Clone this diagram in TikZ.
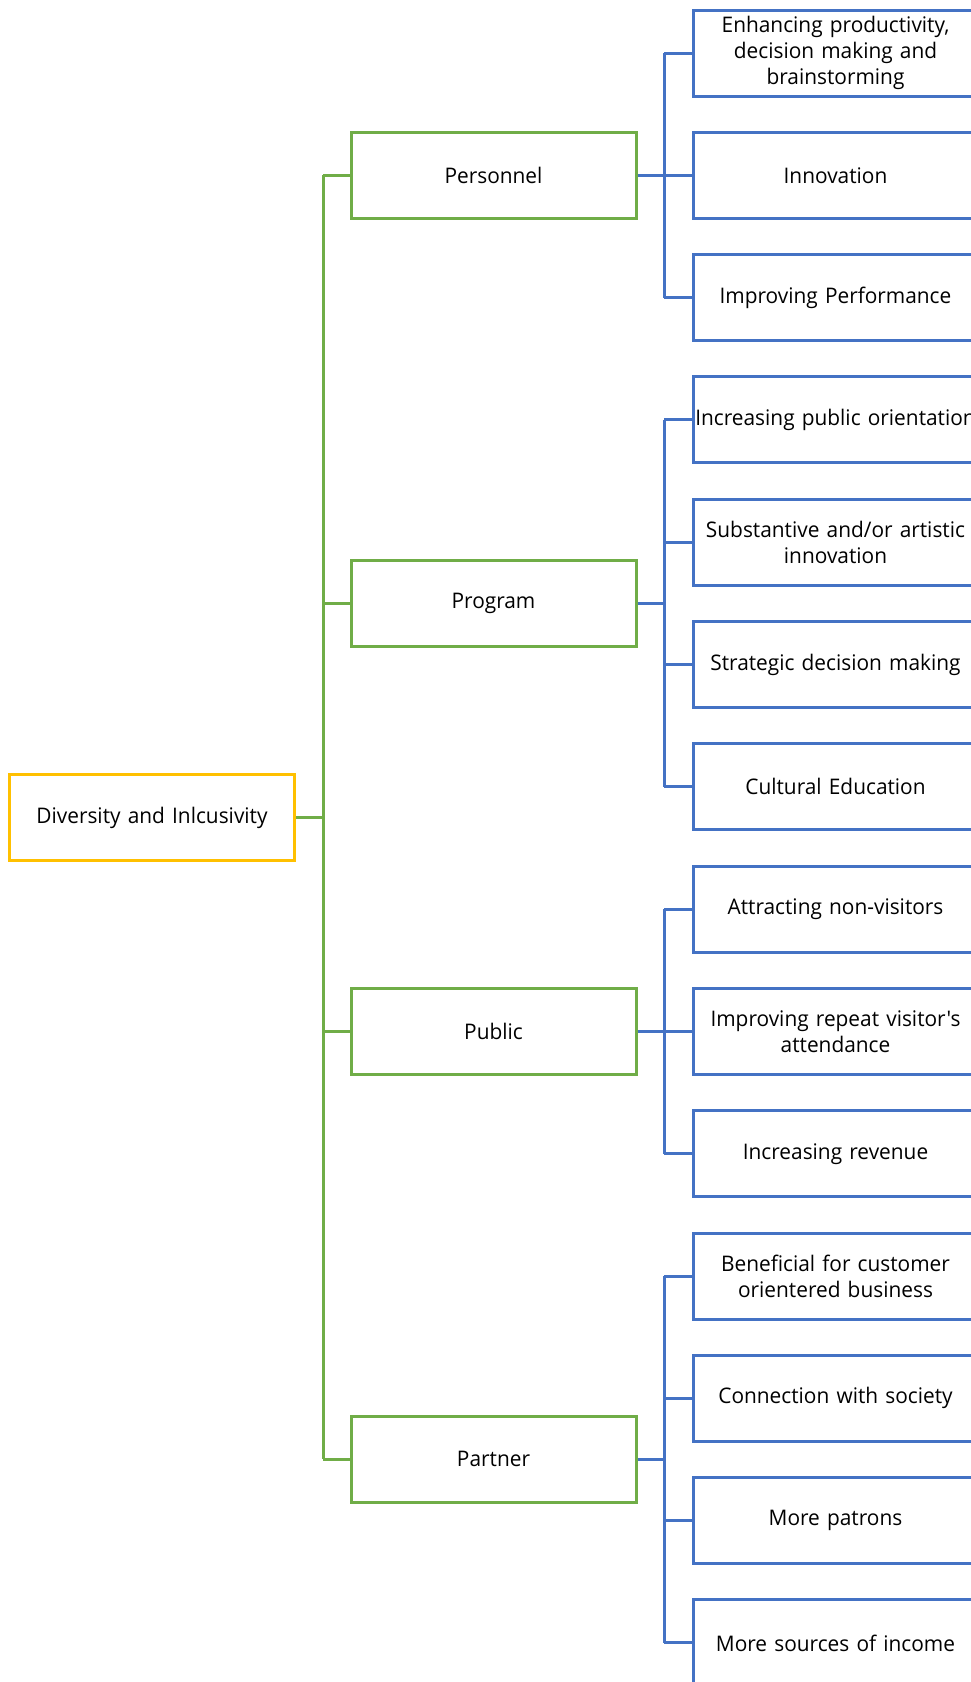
\documentclass[tikz,border=0pt]{standalone}
\usepackage{fontspec}
\newfontfamily\uifont{Open Sans}[FakeStretch=0.97]
\definecolor{ogreen}{HTML}{70AD47}
\definecolor{oblue}{HTML}{4472C4}
\definecolor{ogold}{HTML}{FFC000}
\begin{document}
\begin{tikzpicture}[x=1pt,y=-1pt,
  basebox/.style={draw, line width=3pt, fill=white, minimum width=285pt, minimum height=86pt,
    text width=281pt, inner sep=2pt, align=center, font=\uifont\fontsize{21.5}{26}\selectfont, text=black},
  rootbox/.style={basebox, draw=ogold},
  midbox/.style={basebox, draw=ogreen},
  leafbox/.style={basebox, draw=oblue},
  gline/.style={draw=ogreen, line width=3pt},
  bline/.style={draw=oblue, line width=3pt}]
\useasboundingbox (0,0) rectangle (971,1682);
\clip (0,0) rectangle (971,1682);
\fill[white] (0,0) rectangle (971,1682);

\node[rootbox] (root) at (152,817.5) {Diversity and Inlcusivity};
\node[midbox] (p1) at (493.5,175) {Personnel};
\node[midbox] (p2) at (493.5,603) {Program};
\node[midbox] (p3) at (493.5,1031) {Public};
\node[midbox] (p4) at (493.5,1459) {Partner};

\node[leafbox] (c0) at (835.5,53) {Enhancing productivity,\\decision making and\\brainstorming};
\node[leafbox] (c1) at (835.5,175.3) {Innovation};
\node[leafbox] (c2) at (835.5,297.6) {Improving Performance};
\node[leafbox] (c3) at (835.5,419.9) {Increasing public orientation};
\node[leafbox] (c4) at (835.5,542.2) {Substantive and/or artistic\\innovation};
\node[leafbox] (c5) at (835.5,664.5) {Strategic decision making};
\node[leafbox] (c6) at (835.5,786.8) {Cultural Education};
\node[leafbox] (c7) at (835.5,909.1) {Attracting non-visitors};
\node[leafbox] (c8) at (835.5,1031.4) {Improving repeat visitor's\\attendance};
\node[leafbox] (c9) at (835.5,1153.7) {Increasing revenue};
\node[leafbox] (c10) at (835.5,1276) {Beneficial for customer\\orientered business};
\node[leafbox] (c11) at (835.5,1398.3) {Connection with society};
\node[leafbox] (c12) at (835.5,1520.6) {More patrons};
\node[leafbox] (c13) at (835.5,1642.9) {More sources of income};

% green connectors
\coordinate (gx) at (323,0);
\draw[gline] (root.east) -- (root.east -| gx);
\draw[gline] (p1.west -| gx) -- (p4.west -| gx);
\foreach \p in {p1,p2,p3,p4}{
  \draw[gline] (\p.west -| gx) -- (\p.west);
}

% blue connectors
\coordinate (bx) at (664,0);
\draw[bline] (p1.east) -- (p1.east -| bx);
\draw[bline] (c0.west -| bx) -- (c2.west -| bx);
\foreach \c in {c0,c1,c2}{ \draw[bline] (\c.west -| bx) -- (\c.west); }

\draw[bline] (p2.east) -- (p2.east -| bx);
\draw[bline] (c3.west -| bx) -- (c6.west -| bx);
\foreach \c in {c3,c4,c5,c6}{ \draw[bline] (\c.west -| bx) -- (\c.west); }

\draw[bline] (p3.east) -- (p3.east -| bx);
\draw[bline] (c7.west -| bx) -- (c9.west -| bx);
\foreach \c in {c7,c8,c9}{ \draw[bline] (\c.west -| bx) -- (\c.west); }

\draw[bline] (p4.east) -- (p4.east -| bx);
\draw[bline] (c10.west -| bx) -- (c13.west -| bx);
\foreach \c in {c10,c11,c12,c13}{ \draw[bline] (\c.west -| bx) -- (\c.west); }
\end{tikzpicture}
\end{document}
